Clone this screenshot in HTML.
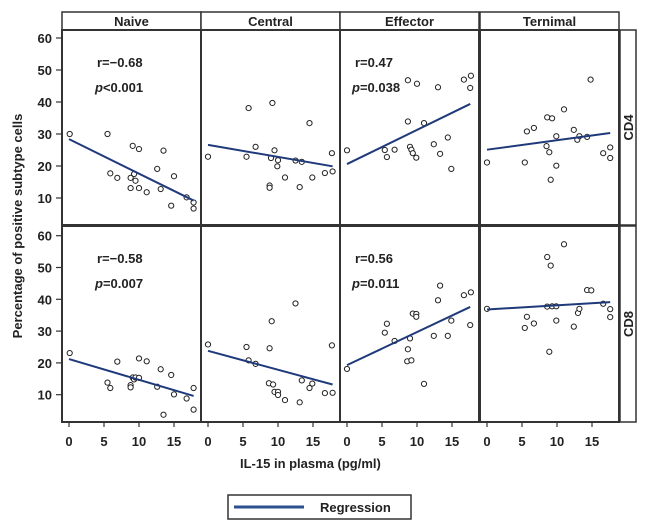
<!DOCTYPE html>
<html><head><meta charset="utf-8"><style>
body{margin:0;background:#fff;}
svg text{font-family:"Liberation Sans",Arial,sans-serif;font-weight:bold;fill:#222;}
</style></head><body>
<svg id="c" width="650" height="526" viewBox="0 0 650 526" xmlns="http://www.w3.org/2000/svg"></svg>
<script>
const columns=["Naive","Central","Effector","Ternimal"];
const rows=["CD4","CD8"];
const xTicks=[0,5,10,15];
const yTicks=[10,20,30,40,50,60];
const stats=[["r=\u22120.68","<0.001"],null,["r=0.47","=0.038"],null,["r=\u22120.58","=0.007"],null,["r=0.56","=0.011"],null];
const cd4NaiveX=[0.1,5.5,5.9,6.9,9.1,10.0,9.3,8.8,9.5,8.8,10.0,11.1,12.6,13.5,13.1,15.0,14.6,16.8,17.8,17.8];
const cd4NaiveY=[30,30,17.7,16.3,26.3,25.3,17.5,16.3,15.4,13.1,13.1,11.8,19.1,24.8,12.8,16.8,7.6,10.2,8.6,6.7];
const cd4CentralX=[0,5.8,5.5,6.8,9.2,9.5,9.0,10.0,9.9,8.8,8.8,11.0,12.5,13.4,14.5,13.1,14.9,16.7,17.7,17.8];
const cd4CentralY=[22.9,38.1,22.9,26.0,39.7,24.9,22.5,21.8,19.9,13.9,13.2,16.4,21.7,21.3,33.4,13.4,16.4,17.8,24.0,18.3];
const cd4EffectorX=[0,5.4,5.7,6.8,8.7,10.0,8.7,11.0,9.0,9.2,9.4,9.9,13.0,12.4,13.3,14.4,14.9,16.7,17.7,17.6];
const cd4EffectorY=[24.9,25,22.8,25.1,46.8,45.7,33.9,33.4,26,25.1,24,22.6,44.6,26.8,23.8,28.9,19.1,47,48.2,44.4];
const cd4TerminalX=[0,5.4,5.7,6.7,8.6,9.3,11.0,8.5,8.9,9.9,9.9,9.1,12.4,12.9,13.2,14.3,14.8,16.6,17.6,17.6];
const cd4TerminalY=[21.1,21.1,30.8,31.9,35.2,34.9,37.7,26.2,24.3,29.3,20.1,15.7,31.3,28.2,29.3,29.1,47,24,25.8,22.5];
const cd8NaiveX=[0.1,5.5,5.9,6.9,8.8,8.8,9.1,9.3,9.5,10.0,10.0,11.1,12.6,13.1,13.5,14.6,15.0,16.8,17.8,17.8];
const cd8NaiveY=[23.1,13.8,12.1,20.4,13.0,12.3,15.4,14.8,15.4,15.3,21.4,20.5,12.5,18.0,3.7,16.2,10.1,8.8,12.1,5.3];
const cd8CentralX=[0,5.5,5.8,6.8,8.8,9.1,8.7,9.3,9.5,10.0,10.0,11.0,12.5,13.1,13.4,14.5,14.9,16.7,17.7,17.8];
const cd8CentralY=[25.8,25,20.8,19.7,24.6,33.1,13.6,13.2,10.9,10.9,9.9,8.3,38.7,7.6,14.5,12.1,13.5,10.5,25.5,10.6];
const cd8EffectorX=[0,5.4,5.7,6.8,8.7,8.6,9.2,9.0,9.4,9.9,9.9,11.0,12.4,13.0,13.3,14.4,14.9,16.7,17.7,17.6];
const cd8EffectorY=[18.1,29.5,32.3,26.9,24.3,20.5,20.8,27.7,35.5,35.4,34.5,13.4,28.5,39.7,44.3,28.5,33.3,41.3,42.2,31.9];
const cd8TerminalX=[0,5.4,5.7,6.7,8.6,9.1,11.0,8.6,9.3,9.9,9.9,8.9,12.4,13.0,13.2,14.3,14.9,16.6,17.6,17.6];
const cd8TerminalY=[37,31,34.5,32.4,53.3,50.6,57.3,37.7,37.8,37.8,33.3,23.5,31.4,35.7,37,42.9,42.8,38.6,36.9,34.4];
// regression endpoints [x0,y0,x1,y1]
const regStart=[[0,28.4],[0,26.6],[0,20.6],[0,25.1],[0,21.2],[0,23.8],[0,19.3],[0,36.8]];
const regEnd=[[17.8,9.2],[17.8,19.9],[17.6,39.4],[17.6,30.3],[17.8,9.6],[17.8,13.2],[17.6,37.6],[17.6,39.1]];
const seriesX=[cd4NaiveX,cd4CentralX,cd4EffectorX,cd4TerminalX,cd8NaiveX,cd8CentralX,cd8EffectorX,cd8TerminalX];
const seriesY=[cd4NaiveY,cd4CentralY,cd4EffectorY,cd4TerminalY,cd8NaiveY,cd8CentralY,cd8EffectorY,cd8TerminalY];

const svg=document.getElementById('c');const NS="http://www.w3.org/2000/svg";
function mk(t,a,p){const e=document.createElementNS(NS,t);for(const k in a)e.setAttribute(k,a[k]);(p||svg).appendChild(e);return e;}
const pL=[62,201,340,480],pW=139;
const rowTop=[30,226],rowBot=[225,422];
const y60=[38,235.7],ppu=[3.2,3.18];
function xs(c,v){return pL[c]+7+v*7;}
function ys(r,v){return y60[r]+(60-v)*ppu[r];}
// strips
columns.forEach((n,c)=>{
 const s=mk('rect',{x:pL[c],y:12,width:pW,height:18,fill:'#fff',stroke:'#333','stroke-width':1.5});
 
 
 const t=mk('text',{x:pL[c]+pW/2,y:26,'text-anchor':'middle','font-size':13});t.textContent=n;
 
 
});
rows.forEach((n,r)=>{
 const s=mk('rect',{x:620,y:rowTop[r],width:16,height:rowBot[r]-rowTop[r],fill:'#fff',stroke:'#333','stroke-width':1.5});
 
 
 const cy=(rowTop[r]+rowBot[r])/2;
 const t=mk('text',{x:633,y:cy,'text-anchor':'middle','font-size':13,transform:`rotate(-90 633 ${cy})`});t.textContent=n;
 
 
 yTicks.forEach(v=>{const y=ys(r,v);
  mk('line',{x1:56,x2:62,y1:y,y2:y,stroke:'#333','stroke-width':1.2});
  const tl=mk('text',{x:52,y:y+5,'text-anchor':'end','font-size':13});tl.textContent=v;
  
  
 });
});
for(let i=0;i<8;i++){
 const r=Math.floor(i/4),c=i%4;
 const pr=mk('rect',{x:pL[c],y:rowTop[r],width:pW,height:rowBot[r]-rowTop[r],fill:'none',stroke:'#333','stroke-width':2});
 
 
 seriesX[i].forEach((xv,j)=>{
  const p=mk('circle',{cx:xs(c,xv),cy:ys(r,seriesY[i][j]),r:2.6,fill:'#fff',stroke:'#222','stroke-width':1});
  
  
 });
 const l=mk('line',{x1:xs(c,regStart[i][0]),y1:ys(r,regStart[i][1]),x2:xs(c,regEnd[i][0]),y2:ys(r,regEnd[i][1]),stroke:'#1f3a7a','stroke-width':2});
 
 
 if(stats[i]){
  const t1=mk('text',{x:pL[c]+(c==0?35:15),y:rowTop[r]+37,'font-size':13});t1.textContent=stats[i][0];
  
  
  const t2=mk('text',{x:pL[c]+(c==0?33:12),y:rowTop[r]+62,'font-size':13});
  const ti=mk('tspan',{'font-style':'italic'},t2);ti.textContent='p';
  const tr=mk('tspan',{},t2);tr.textContent=stats[i][1];
  
  
 }
 if(r==1){xTicks.forEach(v=>{const x=xs(c,v);
  mk('line',{x1:x,x2:x,y1:422,y2:427,stroke:'#333','stroke-width':1.2});
  const tl=mk('text',{x:x,y:446,'text-anchor':'middle','font-size':13});tl.textContent=v;
  
  
 });}
}
const xt=mk('text',{x:240,y:468,'font-size':13});xt.textContent='IL-15 in plasma (pg/ml)';


const yt=mk('text',{x:22,y:226,'text-anchor':'middle','font-size':13,transform:'rotate(-90 22 226)'});yt.textContent='Percentage of positive subtype cells';


const lg=mk('rect',{x:228,y:495,width:183,height:24,fill:'#fff',stroke:'#333','stroke-width':1.5});


const ll=mk('line',{x1:234,x2:304,y1:507,y2:507,stroke:'#2b4f8f','stroke-width':3});


const lt=mk('text',{x:320,y:512,'font-size':13});lt.textContent='Regression';


</script>
</body></html>
